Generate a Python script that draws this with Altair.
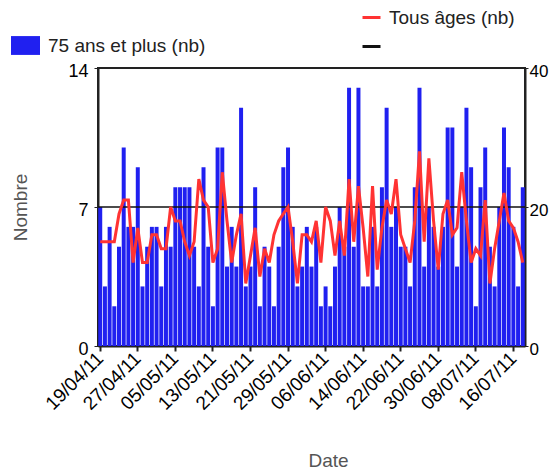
import altair as alt
import pandas as pd

# Categories: one bar per day, 19/04/11 -> 18/07/11
dates = list(pd.date_range("2011-04-19", periods=91, freq="D").strftime("%d/%m/%y"))
tick_dates = dates[::8]

# 75 ans et plus (nb) - left axis
bars75 = [7, 3, 6, 2, 5, 10, 6, 6, 9, 3,
          5, 6, 6, 3, 6, 5, 8, 8, 8, 8,
          5, 3, 9, 5, 2, 10, 10, 4, 6, 4,
          12, 3, 4, 8, 2, 5, 4, 2, 5, 9,
          10, 6, 3, 4, 6, 4, 6, 2, 3, 2,
          4, 7, 5, 13, 5, 13, 3, 3, 6, 3,
          8, 12, 6, 7, 5, 5, 3, 8, 13, 4,
          7, 6, 4, 6, 11, 11, 4, 7, 12, 9,
          2, 8, 10, 5, 3, 7, 11, 9, 6, 3,
          8]

# Tous âges (nb) - right axis
tous = [15, 15, 15, 15, 19, 21, 21, 12, 17, 12,
        12, 16, 16, 14, 14, 20, 18, 18, 15, 13,
        15, 24, 21, 20, 12, 14, 25, 18, 12, 16,
        19, 9, 13, 17, 10, 14, 12, 16, 18, 19,
        20, 15, 9, 16, 16, 15, 18, 12, 20, 18,
        13, 18, 13, 24, 15, 23, 17, 10, 23, 11,
        17, 21, 19, 24, 16, 14, 12, 18, 28, 15,
        27, 18, 11, 19, 21, 16, 17, 25, 18, 12,
        14, 13, 21, 9, 14, 18, 22, 18, 17, 15,
        12]

seuil = [7]  # black reference line (left scale)

s75 = "75 ans et plus (nb)"
sT = "Tous âges (nb)"
sS = " "

df = pd.DataFrame({"date": dates, "v75": bars75, "tous": tous,
                   "serie75": s75, "serieT": sT})
df_rule = pd.DataFrame({"seuil": seuil, "lab": [sS]})

FONT = "Liberation Sans"

xenc = alt.X("date:O", sort=dates, title="Date",
             scale=alt.Scale(paddingInner=0.15, paddingOuter=0.05),
             axis=alt.Axis(values=tick_dates, labelAngle=315, labelAlign="right",
                           labelBaseline="middle", labelFontSize=19, labelColor="black",
                           labelPadding=4, tickSize=5, tickWidth=2, tickColor="#222",
                           domainColor="#222", domainWidth=2,
                           titleFontSize=19, titleColor="#555", titleFontWeight="normal",
                           titleX=230, titleY=114, titleBaseline="middle"))

stroke_scale = alt.Scale(domain=[sT, sS], range=["#FF3333", "#111111"])
stroke_legend = alt.Legend(orient="none", legendX=263, legendY=-61, title=None,
                           symbolType="stroke", symbolSize=324, symbolStrokeWidth=3,
                           labelFontSize=19, labelColor="#222", labelFont=FONT,
                           rowPadding=8, labelOffset=7, padding=0)

bars = alt.Chart(df).mark_bar().encode(
    x=xenc,
    y=alt.Y("v75:Q", scale=alt.Scale(domain=[0, 14], nice=False),
            axis=alt.Axis(values=[0, 7, 14], orient="left", title="Nombre",
                          labelFontSize=18, labelColor="black", tickSize=4,
                          labelPadding=6, labelOffset=3, labelFlush=False,
                          domainColor="#222", domainWidth=2,
                          tickColor="#222", grid=False,
                          titleFontSize=19, titleColor="#555", titleFontWeight="normal",
                          titleX=-78, titleY=139, titleBaseline="middle")),
    fill=alt.Fill("serie75:N", scale=alt.Scale(domain=[s75], range=["#2020F0"]),
                  legend=alt.Legend(orient="none", legendX=-87, legendY=-37, title=None,
                                    symbolType="M-1,-0.65H1V0.65H-1Z", symbolSize=841,
                                    symbolStrokeWidth=0, symbolOpacity=1,
                                    labelFontSize=19, labelColor="#222", labelFont=FONT,
                                    labelOffset=8, padding=0)),
)

rule = alt.Chart(df_rule).mark_rule(strokeWidth=1.5).encode(
    y=alt.Y("seuil:Q", scale=alt.Scale(domain=[0, 14], nice=False), axis=None),
    stroke=alt.Stroke("lab:N", scale=stroke_scale, legend=stroke_legend),
)

line = alt.Chart(df).mark_line(strokeWidth=3).encode(
    x=xenc,
    y=alt.Y("tous:Q", scale=alt.Scale(domain=[0, 40], nice=False),
            axis=alt.Axis(values=[0, 20, 40], orient="right", title=None,
                          labelFontSize=17, labelColor="black", tickSize=3,
                          labelPadding=1, labelOffset=3, labelFlush=False,
                          domainColor="#222", domainWidth=2,
                          tickColor="#222", grid=False)),
    stroke=alt.Stroke("serieT:N", scale=stroke_scale, legend=stroke_legend),
)

chart = alt.layer(bars, rule, line).resolve_scale(y="independent").properties(
    width=427, height=278,
    autosize=alt.AutoSizeParams(type="none"),
    padding={"left": 90, "top": 60, "right": 25, "bottom": 130},
).configure(font=FONT).configure_view(stroke="#222", strokeWidth=2)

chart.save("out.html", embed_options={"renderer": "svg", "actions": False})
